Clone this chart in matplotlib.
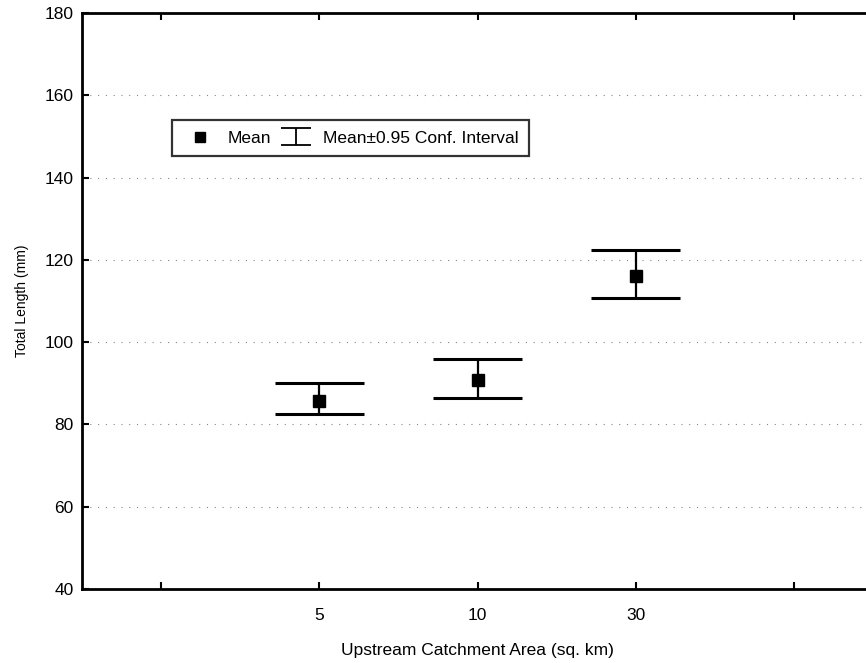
import matplotlib.pyplot as plt
from matplotlib.lines import Line2D

plt.rcParams['font.family'] = ['Liberation Sans', 'DejaVu Sans']

# Mean total length per catchment class with 95% confidence limits
areas = ['5', '10', '30']
mean_len = [85.7, 90.8, 116.1]
ci_low = [82.6, 86.5, 110.8]
ci_high = [90.1, 95.9, 122.4]

pos = [2, 3, 4]
half = 0.28

fig = plt.figure(figsize=(8.66, 6.63), dpi=100)
ax = fig.add_axes([82 / 866, 1 - 589 / 663, 791 / 866, 576 / 663])

# confidence interval: vertical stem plus wide caps
for x, lo, hi in zip(pos, ci_low, ci_high):
    ax.vlines(x, lo, hi, color='black', lw=1.6, zorder=3)
ax.hlines(ci_high, [p - half for p in pos], [p + half for p in pos], color='black', lw=2.2, zorder=3)
ax.hlines(ci_low, [p - half for p in pos], [p + half for p in pos], color='black', lw=2.2, zorder=3)
ax.plot(pos, mean_len, 's', color='black', ms=9, zorder=4)

ax.set_xlim(0.5, 5.5)
ax.set_ylim(40, 180)
ax.set_xticks([1, 2, 3, 4, 5])
ax.set_xticklabels([''] + areas + [''])
ax.set_yticks(range(40, 181, 20))
ax.tick_params(direction='in', top=True, right=False, length=5, width=1.5, labelsize=12.5)
ax.tick_params(axis='x', pad=14)
ax.tick_params(axis='y', pad=6)
for s in ax.spines.values():
    s.set_linewidth(2)
ax.yaxis.grid(True, ls=(0, (1, 6)), color='#888888', lw=0.8)

ax.set_xlabel('Upstream Catchment Area (sq. km)', fontsize=12.5, labelpad=14)
ax.set_ylabel('Total Length (mm)', fontsize=10, labelpad=11)

# legend with a square for the mean and an I-beam for the interval
mean_handle = Line2D([], [], marker='s', ls='none', color='black', ms=7)
ci_proxy = ax.errorbar([-10], [0], yerr=[1], color='black', capsize=11,
                       elinewidth=1.3, capthick=1.3, ls='none')
leg = ax.legend([mean_handle, ci_proxy], ['Mean', 'Mean±0.95 Conf. Interval'],
                loc='upper left', bbox_to_anchor=(0.114, 0.814), borderaxespad=0,
                ncol=2, fontsize=12.5, frameon=True, fancybox=False, edgecolor='black',
                borderpad=0.6, handlelength=2.0, columnspacing=0.4, handletextpad=0.6)
leg.get_frame().set_linewidth(1.6)

fig.savefig('out.png', dpi=100)
